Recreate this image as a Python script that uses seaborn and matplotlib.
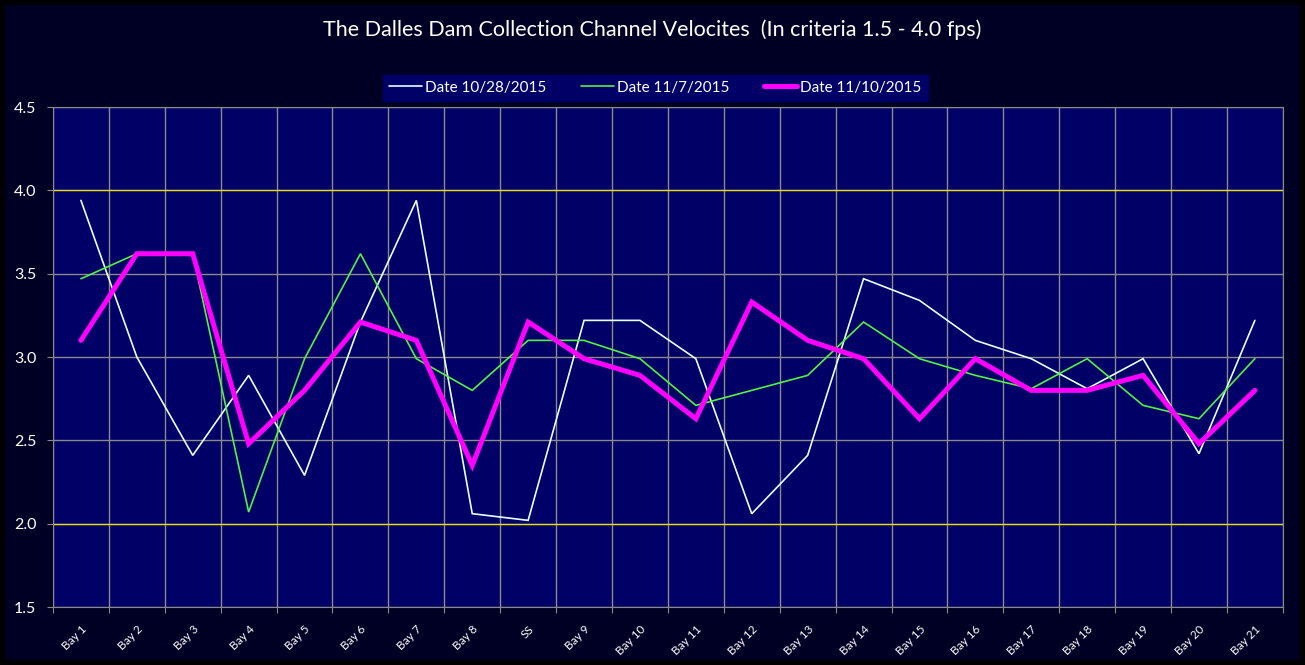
import pandas as pd
import matplotlib.pyplot as plt
import seaborn as sns

# -------------------------------
# Data
# -------------------------------
bays = ["Bay 1", "Bay 2", "Bay 3", "Bay 4", "Bay 5", "Bay 6", "Bay 7", "Bay 8", "SS",
        "Bay 9", "Bay 10", "Bay 11", "Bay 12", "Bay 13", "Bay 14", "Bay 15", "Bay 16",
        "Bay 17", "Bay 18", "Bay 19", "Bay 20", "Bay 21"]

date_1028 = [3.94, 3.00, 2.41, 2.89, 2.29, 3.21, 3.94, 2.06, 2.02, 3.22, 3.22,
             2.99, 2.06, 2.41, 3.47, 3.34, 3.10, 2.99, 2.81, 2.99, 2.42, 3.22]
date_1107 = [3.47, 3.62, 3.62, 2.07, 2.99, 3.62, 2.99, 2.80, 3.10, 3.10, 2.99,
             2.71, 2.80, 2.89, 3.21, 2.99, 2.89, 2.81, 2.99, 2.71, 2.63, 2.99]
date_1110 = [3.10, 3.62, 3.62, 2.48, 2.80, 3.21, 3.10, 2.35, 3.21, 2.99, 2.89,
             2.63, 3.33, 3.10, 2.99, 2.63, 2.99, 2.80, 2.80, 2.89, 2.48, 2.80]

series_names = ["Date 10/28/2015", "Date 11/7/2015", "Date 11/10/2015"]
criteria = [2.0, 4.0]
y_ticks = [1.5, 2.0, 2.5, 3.0, 3.5, 4.0, 4.5]

df = pd.DataFrame({"bay": bays * 3,
                   "velocity": date_1028 + date_1107 + date_1110,
                   "date": [n for n in series_names for _ in bays]})

# -------------------------------
# Style
# -------------------------------
sns.set_style("dark")
plt.rcParams['font.family'] = ['Lato', 'DejaVu Sans']

fig_bg = "#000024"
ax_bg = "#000066"
colors = {"Date 10/28/2015": "#E6FFFF",
          "Date 11/7/2015": "#55F044",
          "Date 11/10/2015": "#FF00FF"}
widths = {"Date 10/28/2015": 1.2, "Date 11/7/2015": 1.2, "Date 11/10/2015": 3.6}

fig = plt.figure(figsize=(13.05, 6.65), dpi=100, facecolor=fig_bg)
fig.patch.set_edgecolor("black")
fig.patch.set_linewidth(6)
ax = fig.add_axes([0.0406, 0.0872, 0.9424, 0.7518])
ax.set_facecolor(ax_bg)

# -------------------------------
# Lines
# -------------------------------
for name in series_names:
    sub = df[df["date"] == name]
    sns.lineplot(data=sub, x="bay", y="velocity", color=colors[name],
                 linewidth=widths[name], label=name, ax=ax, sort=False,
                 solid_joinstyle="miter", zorder=3)

for c in criteria:
    ax.axhline(c, color="#E8E000", linewidth=0.9, zorder=2)

# -------------------------------
# Axes
# -------------------------------
n = len(bays)
ax.set_xlim(-0.5, n - 0.5)
ax.set_ylim(1.5, 4.5)
ax.set_yticks(y_ticks)
ax.set_yticklabels([f"{v:.1f}" for v in y_ticks], color="white", fontsize=11.5)
# grid lines sit between the categories, labels at the centres
ax.set_xticks([i - 0.5 for i in range(n + 1)])
ax.set_xticklabels([])
ax.set_xticks(range(n), minor=True)
ax.set_xticklabels(bays, minor=True, rotation=45, ha="right", rotation_mode="anchor",
                   color="white", fontsize=8.5)
ax.tick_params(axis="x", which="major", length=4, color="#8A8A8A", direction="out", bottom=True)
ax.tick_params(axis="x", which="minor", length=0, pad=12)
ax.tick_params(axis="y", length=4, color="#8A8A8A", left=True, pad=8)
ax.grid(True, which="major", color="#8A8A8A", linewidth=1)
ax.set_xlabel("")
ax.set_ylabel("")
for s in ax.spines.values():
    s.set_color("#8A8A8A")
    s.set_visible(True)

fig.text(0.5, 0.955, "The Dalles Dam Collection Channel Velocites  (In criteria 1.5 - 4.0 fps)",
         color="white", fontsize=15.5, ha="center", va="center")

leg = ax.legend(loc="center", bbox_to_anchor=(0.502, 0.868), bbox_transform=fig.transFigure,
                ncol=3, frameon=True, facecolor=ax_bg, edgecolor=ax_bg, fancybox=False,
                fontsize=11, handlelength=2.15, handletextpad=0.2, columnspacing=2.3,
                borderpad=0.4, borderaxespad=0)
leg.get_frame().set_alpha(1)
for t in leg.get_texts():
    t.set_color("white")

fig.savefig("out.png", dpi=100, facecolor=fig.get_facecolor())
